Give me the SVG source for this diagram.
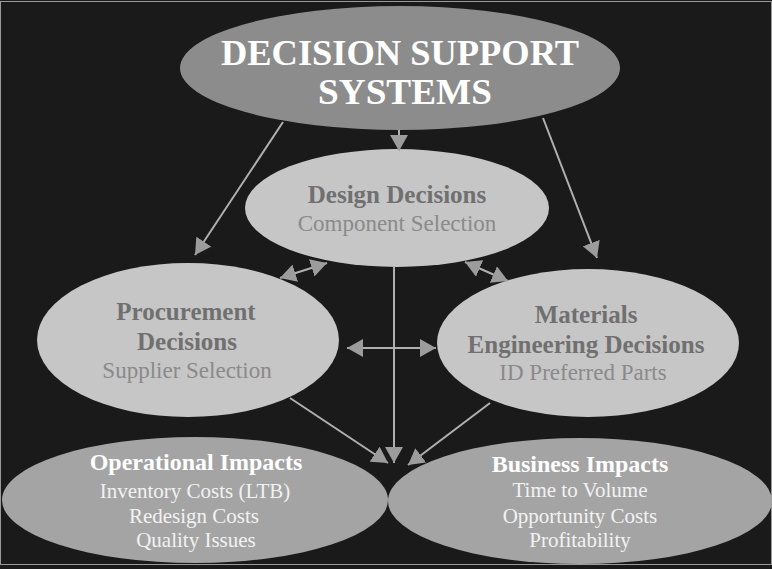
<svg xmlns="http://www.w3.org/2000/svg" width="772" height="569" viewBox="0 0 772 569">
<style>
text{font-family:"Liberation Serif","Times New Roman",serif;text-anchor:middle}
.t1{font-size:35px;font-weight:bold;fill:#ffffff}
.mb{font-size:25px;font-weight:bold;fill:#707070}
.mr{font-size:23px;fill:#8a8a8a}
.bb{font-size:24px;font-weight:bold;fill:#ffffff}
.br{font-size:21px;fill:#f2f2f2}
.conn line{stroke:#b0b0b0;stroke-width:2;fill:none}
</style>
<defs>
<marker id="ah" viewBox="0 0 16 18" refX="16" refY="9" markerWidth="16" markerHeight="18" markerUnits="userSpaceOnUse" orient="auto-start-reverse">
<path d="M0,0 L16,9 L0,18 z" fill="#9c9c9c"/>
</marker>
</defs>
<rect x="0" y="0" width="772" height="569" fill="#1a1a1a"/>
<rect x="0.5" y="1.5" width="771" height="563" fill="none" stroke="#9a9a9a" stroke-width="1"/>

<g id="dss">
<ellipse cx="400" cy="68" rx="220" ry="62" fill="#8c8c8c"/>
<text class="t1" x="400" y="65" textLength="358" lengthAdjust="spacingAndGlyphs">DECISION SUPPORT</text>
<text class="t1" x="405" y="104" textLength="174" lengthAdjust="spacingAndGlyphs">SYSTEMS</text>
</g>

<g id="design">
<ellipse cx="397" cy="208" rx="152" ry="59" fill="#c6c6c6"/>
<text class="mb" x="397" y="203">Design Decisions</text>
<text class="mr" x="397" y="231">Component Selection</text>
</g>

<g id="procurement">
<ellipse cx="188" cy="340" rx="151" ry="77" fill="#c6c6c6"/>
<text class="mb" x="186" y="320">Procurement</text>
<text class="mb" x="187" y="350">Decisions</text>
<text class="mr" x="187" y="378">Supplier Selection</text>
</g>

<g id="materials">
<ellipse cx="588" cy="343" rx="151" ry="74" fill="#c6c6c6"/>
<text class="mb" x="586" y="323">Materials</text>
<text class="mb" x="586" y="353">Engineering Decisions</text>
<text class="mr" x="583" y="380">ID Preferred Parts</text>
</g>

<g id="operational">
<ellipse cx="195" cy="500" rx="193" ry="63" fill="#a4a4a4"/>
<text class="bb" x="196" y="470">Operational Impacts</text>
<text class="br" x="195" y="498">Inventory Costs (LTB)</text>
<text class="br" x="194" y="523">Redesign Costs</text>
<text class="br" x="196" y="547">Quality Issues</text>
</g>

<g id="business">
<ellipse cx="580" cy="501" rx="192" ry="63" fill="#a4a4a4"/>
<text class="bb" x="580" y="472">Business Impacts</text>
<text class="br" x="580" y="497">Time to Volume</text>
<text class="br" x="580" y="523">Opportunity Costs</text>
<text class="br" x="580" y="547">Profitability</text>
</g>

<g class="conn" id="connectors">
<line x1="283" y1="122" x2="195" y2="255" marker-end="url(#ah)"/>
<line x1="543" y1="118" x2="597" y2="258" marker-end="url(#ah)"/>
<line x1="399" y1="130" x2="399" y2="151" marker-end="url(#ah)"/>
<line x1="280" y1="278" x2="327" y2="263" marker-start="url(#ah)" marker-end="url(#ah)"/>
<line x1="465" y1="262" x2="508" y2="281" marker-start="url(#ah)" marker-end="url(#ah)"/>
<line x1="394" y1="267" x2="394" y2="463" marker-end="url(#ah)"/>
<line x1="347" y1="348" x2="436" y2="348" marker-start="url(#ah)" marker-end="url(#ah)"/>
<line x1="290" y1="398" x2="388" y2="463" marker-end="url(#ah)"/>
<line x1="490" y1="403" x2="408" y2="465" marker-end="url(#ah)"/>
</g>
</svg>
